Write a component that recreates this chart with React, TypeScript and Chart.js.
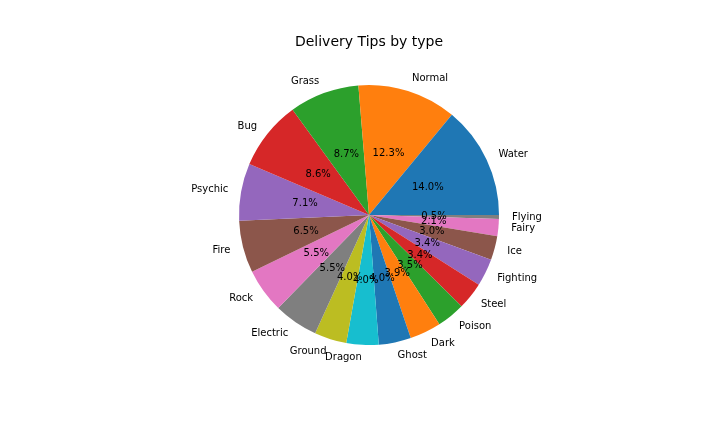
import React, { useEffect, useRef } from "react";
import { Chart, registerables } from "chart.js";

Chart.register(...registerables);

const TITLE = "Delivery Tips by type";
const CATEGORIES = [
  "Water", "Normal", "Grass", "Bug", "Psychic", "Fire", "Rock", "Electric", "Ground",
  "Dragon", "Ghost", "Dark", "Poison", "Steel", "Fighting", "Ice", "Fairy", "Flying",
];
const SHARES = [14.0, 12.3, 8.7, 8.6, 7.1, 6.5, 5.5, 5.5, 4.0, 4.0, 4.0, 3.9, 3.5, 3.4, 3.4, 3.0, 2.1, 0.5];
const PALETTE = ["#1f77b4", "#ff7f0e", "#2ca02c", "#d62728", "#9467bd", "#8c564b", "#e377c2", "#7f7f7f", "#bcbd22", "#17becf"];

export default function App() {
  const ref = useRef<HTMLCanvasElement | null>(null);

  useEffect(() => {
    document.body.style.margin = "0";
    const canvas = ref.current;
    if (!canvas) return;
    // matplotlib draws counter-clockwise from 3 o'clock; Chart.js draws clockwise,
    // so feed reversed order and start at 3 o'clock.
    const labels = [...CATEGORIES].reverse();
    const values = [...SHARES].reverse();
    const colors = CATEGORIES.map((_, i) => PALETTE[i % PALETTE.length]).reverse();
    const total = SHARES.reduce((a, b) => a + b, 0);

    const labelPlugin = {
      id: "mplLabels",
      afterDraw(chart: any) {
        const ctx = chart.ctx;
        const meta = chart.getDatasetMeta(0);
        ctx.save();
        ctx.fillStyle = "#000";
        ctx.font = "14px 'DejaVu Sans'";
        ctx.textAlign = "center";
        ctx.textBaseline = "alphabetic";
        ctx.fillText(TITLE, 369, 46);
        ctx.font = "10px 'DejaVu Sans'";
        meta.data.forEach((arc: any, i: number) => {
          const p = arc.getProps(["x", "y", "startAngle", "endAngle", "outerRadius"], true);
          const mid = (p.startAngle + p.endAngle) / 2;
          const c = Math.cos(mid);
          const s = Math.sin(mid);
          const lx = p.x + 1.1 * p.outerRadius * c;
          const ly = p.y + 1.1 * p.outerRadius * s;
          ctx.textAlign = c > 0 ? "left" : "right";
          ctx.textBaseline = "middle";
          ctx.fillText(labels[i], lx, ly);
          const px = p.x + 0.5 * p.outerRadius * c;
          const py = p.y + 0.5 * p.outerRadius * s;
          ctx.textAlign = "center";
          ctx.fillText(((values[i] / total) * 100).toFixed(1) + "%", px, py);
        });
        ctx.restore();
      },
    };

    const chart = new Chart(canvas, {
      type: "pie",
      data: {
        labels,
        datasets: [{ data: values, backgroundColor: colors, borderWidth: 0 }],
      },
      options: {
        responsive: false,
        animation: false,
        rotation: 90,
        layout: { padding: { top: 85, bottom: 87, left: 239, right: 221 } },
        plugins: { legend: { display: false }, tooltip: { enabled: false }, title: { display: false } },
      },
      plugins: [labelPlugin],
    } as any);
    return () => chart.destroy();
  }, []);

  return (
    <div style={{ position: "absolute", left: 0, top: 0, width: 720, height: 432, background: "#fff" }}>
      <canvas ref={ref} width={720} height={432} style={{ width: 720, height: 432 }} />
    </div>
  );
}
